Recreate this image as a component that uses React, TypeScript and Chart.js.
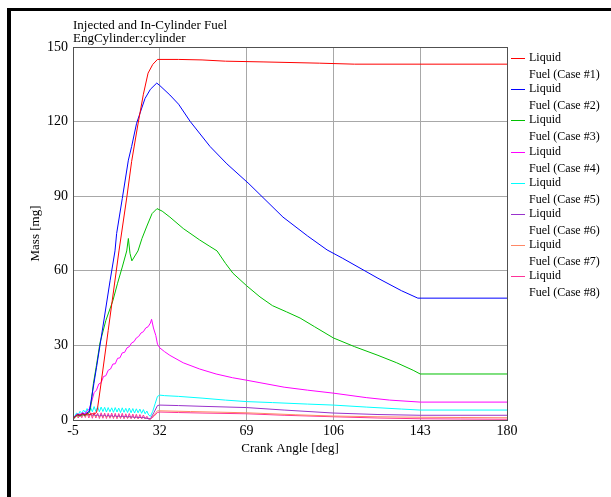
import { useEffect, useRef } from 'react';
import { Chart, registerables } from 'chart.js';

Chart.register(...registerables);

const FONT = "'Liberation Serif', 'Times New Roman', serif";

const TITLE_LINES = ['Injected and In-Cylinder Fuel', 'EngCylinder:cylinder'];
const X_TITLE = 'Crank Angle [deg]';
const Y_TITLE = 'Mass [mg]';
const X_TICKS = [-5, 32, 69, 106, 143, 180];
const Y_MIN = 0;
const Y_MAX = 150;
const Y_STEP = 30;

const LABELS = [
  'Liquid Fuel (Case #1)',
  'Liquid Fuel (Case #2)',
  'Liquid Fuel (Case #3)',
  'Liquid Fuel (Case #4)',
  'Liquid Fuel (Case #5)',
  'Liquid Fuel (Case #6)',
  'Liquid Fuel (Case #7)',
  'Liquid Fuel (Case #8)',
];
const COLORS = ['#ff0000', '#0000ff', '#00c000', '#ff00ff', '#00ffff', '#9933cc', '#ff8866', '#ff3399'];

// Case 1 (red)
const case1X = [-5, -4, -3, -2, -1, 0, 1, 2, 3, 4, 5, 5.5, 7, 10, 14.6, 18, 20, 22.7, 25, 27, 29, 31, 40, 50, 60, 76, 100, 115, 180];
const case1Y = [0.3, 1.5, 2.2, 1.8, 2.5, 2.0, 2.6, 2.2, 2.5, 2.4, 3.0, 5, 15, 36, 68, 90, 104, 119, 131, 139.5, 143, 145, 145, 144.8, 144.3, 144.0, 143.5, 143.1, 143.1];

// Case 2 (blue)
const case2X = [-5, -4, -3, -2, -1, 0, 1, 2, 3, 5, 8, 10.8, 12.9, 13.6, 16, 18.6, 20, 22.1, 25.7, 28, 30.7, 32, 36.3, 40, 45, 53.4, 60.6, 70, 84.5, 95, 103.3, 110, 125, 135, 142, 180];
const case2Y = [0.3, 1.6, 2.3, 1.8, 2.6, 2.2, 2.9, 3.5, 9.4, 21, 39, 56, 68, 75, 89, 104.5, 110, 119.3, 129.3, 133, 135.5, 134.5, 130.7, 127, 120, 110, 103, 95, 81.6, 74, 68.4, 65, 57, 52, 49, 49];

// Case 3 (green)
const case3X = [-5, -4, -3, -2, -1, 0, 1, 2, 2.5, 3.7, 5, 6.5, 9, 12, 14, 16, 17.9, 18.6, 19.3, 20.1, 22.7, 24.4, 26.5, 28.7, 30.8, 33, 36.3, 42, 49, 53, 56.4, 60, 63.2, 69, 74.7, 80, 86, 91.8, 98, 106, 115, 125, 133, 140, 143, 180];
const case3Y = [0.3, 1.2, 2.0, 1.5, 2.3, 1.8, 2.5, 3.0, 5, 14.7, 22, 31, 40, 48, 55, 61.5, 68, 73, 67, 64, 68, 73, 78, 83, 85, 84, 81.6, 77, 72.4, 70, 68, 63, 59, 54, 49.5, 46, 43.5, 41, 37.5, 33, 29.5, 26, 23, 20, 18.5, 18.5];

// Case 4 (magenta)
const case4X = [-5, -4, -3, -2, -1, 0, 1, 2, 3, 4, 5, 6, 7, 8, 9, 10, 11, 12, 13, 14, 15, 16, 17, 18, 19, 20, 21, 22, 23, 24, 25, 26, 27, 28, 28.5, 29.3, 30.3, 31, 32, 34, 36.3, 42, 49, 56, 63, 69, 74.7, 85, 95, 106, 120, 130, 143, 180];
const case4Y = [0.3, 1.5, 2.5, 2.0, 3.0, 2.6, 3.6, 4.5, 7.5, 11, 12, 14.5, 15, 17.5, 17.8, 20, 20.5, 22.5, 22.6, 24.8, 25, 27, 27.2, 29, 29.5, 31, 31.5, 33, 33.6, 35, 35.5, 37, 37.5, 39, 40.5, 37, 34, 30.5, 29, 27.5, 26, 23, 20.5, 18.5, 17, 16, 15, 13.2, 12, 10.8, 9, 8, 7.2, 7.2];

// Shared sample angles for the noisy early part of cases 5-8
const zigX = [-5, -4.25, -3.5, -2.75, -2, -1.25, -0.5, 0.25, 1, 1.75, 2.5, 3.25, 4, 4.75, 5.5, 6.25, 7, 7.75, 8.5, 9.25, 10, 10.75, 11.5, 12.25, 13, 13.75, 14.5, 15.25, 16, 16.75, 17.5, 18.25, 19, 19.75, 20.5, 21.25, 22, 22.75, 23.5, 24.25, 25, 25.75, 26.5, 27.25];

// Case 5 (cyan)
const case5EarlyY = [0.5, 1.5, 2.8, 2.2, 3.5, 2.6, 4.0, 3.0, 4.6, 3.2, 5.0, 3.3, 5.4, 3.4, 5.3, 3.3, 5.2, 3.4, 5.1, 3.2, 5.0, 3.3, 4.9, 3.1, 5.0, 3.2, 4.8, 3.0, 4.9, 3.1, 4.7, 3.0, 4.8, 2.9, 4.6, 2.8, 4.5, 2.9, 4.4, 2.7, 4.2, 2.5, 3.6, 2.0];
const case5LateX = [28, 29, 30, 31, 32, 34, 40, 50, 60, 69, 80, 95, 106, 120, 135, 143, 180];
const case5LateY = [1.5, 3.5, 6.5, 9.5, 10, 9.8, 9.5, 8.8, 8.0, 7.4, 7.0, 6.4, 6.0, 5.2, 4.4, 4.0, 4.0];

// Case 6 (purple)
const case6EarlyY = [0.5, 1.5, 2.0, 1.6, 2.2, 1.7, 2.3, 1.8, 2.4, 1.9, 2.3, 1.8, 2.2, 1.7, 2.1, 1.6, 2.0, 1.5, 2.0, 1.5, 1.9, 1.4, 1.8, 1.4, 1.8, 1.3, 1.7, 1.3, 1.6, 1.2, 1.5, 1.2, 1.4, 1.1, 1.3, 1.0, 1.2, 1.0, 1.1, 0.9, 1.0, 0.8, 0.7, 0.5];
const case6LateX = [28, 29.5, 31, 32, 40, 50, 69, 85, 106, 125, 143, 180];
const case6LateY = [0.5, 3.0, 5.8, 6.0, 5.8, 5.5, 5.0, 4.0, 2.8, 2.2, 1.9, 1.9];

// Case 7 (salmon)
const case7EarlyY = [0.4, 1.2, 1.8, 1.3, 2.0, 1.4, 2.0, 1.5, 2.1, 1.4, 2.0, 1.4, 1.9, 1.3, 1.9, 1.3, 1.8, 1.2, 1.8, 1.2, 1.7, 1.2, 1.6, 1.1, 1.6, 1.1, 1.5, 1.0, 1.5, 1.0, 1.4, 1.0, 1.3, 0.9, 1.3, 0.9, 1.2, 0.8, 1.1, 0.8, 1.0, 0.7, 0.7, 0.5];
const case7LateX = [28, 29.5, 31, 32, 45, 69, 90, 106, 125, 143, 160, 180];
const case7LateY = [0.4, 2.0, 3.7, 3.7, 3.4, 2.9, 2.1, 1.6, 1.3, 1.1, 1.0, 0.9];

// Case 8 (pink)
const case8EarlyY = [0.3, 1.0, 2.0, 0.8, 2.6, 0.9, 2.8, 1.0, 3.0, 0.8, 2.9, 0.7, 3.0, 0.8, 2.8, 0.6, 2.9, 0.7, 2.8, 0.6, 2.7, 0.7, 2.8, 0.6, 2.7, 0.5, 2.6, 0.6, 2.7, 0.5, 2.5, 0.6, 2.6, 0.5, 2.4, 0.5, 2.3, 0.4, 2.2, 0.5, 2.0, 0.4, 1.5, 0.4];
const case8LateX = [28, 29.5, 31, 32, 40, 50, 69, 85, 106, 125, 143, 160, 180];
const case8LateY = [0.3, 1.5, 3.0, 3.2, 3.0, 2.8, 2.5, 1.9, 1.3, 0.8, 0.5, 0.4, 0.3];

const pts = (xs: number[], ys: number[]) => xs.map((x, i) => ({ x, y: ys[i] }));

const SERIES = [
  pts(case1X, case1Y),
  pts(case2X, case2Y),
  pts(case3X, case3Y),
  pts(case4X, case4Y),
  pts(zigX.concat(case5LateX), case5EarlyY.concat(case5LateY)),
  pts(zigX.concat(case6LateX), case6EarlyY.concat(case6LateY)),
  pts(zigX.concat(case7LateX), case7EarlyY.concat(case7LateY)),
  pts(zigX.concat(case8LateX), case8EarlyY.concat(case8LateY)),
];

const framePlugin = {
  id: 'frameAndText',
  afterDatasetsDraw(chart: any) {
    const { ctx, chartArea } = chart;
    ctx.save();
    ctx.strokeStyle = '#505050';
    ctx.lineWidth = 1;
    ctx.strokeRect(
      Math.round(chartArea.left) + 0.5,
      Math.round(chartArea.top) + 0.5,
      Math.round(chartArea.right - chartArea.left),
      Math.round(chartArea.bottom - chartArea.top)
    );
    ctx.restore();
  },
  afterDraw(chart: any) {
    const { ctx, chartArea } = chart;
    ctx.save();
    ctx.fillStyle = '#000';
    ctx.font = `13px ${FONT}`;
    ctx.textAlign = 'left';
    ctx.textBaseline = 'alphabetic';
    ctx.fillText(TITLE_LINES[0], chartArea.left, chartArea.top - 18);
    ctx.fillText(TITLE_LINES[1], chartArea.left, chartArea.top - 5);

    ctx.font = `12px ${FONT}`;
    ctx.textBaseline = 'middle';
    chart.data.datasets.forEach((ds: any, i: number) => {
      const y = Math.round(chartArea.top + 11 + i * 31.2);
      ctx.strokeStyle = ds.borderColor;
      ctx.lineWidth = 1;
      ctx.beginPath();
      ctx.moveTo(chartArea.right + 4, y + 0.5);
      ctx.lineTo(chartArea.right + 18, y + 0.5);
      ctx.stroke();
      const label: string = ds.label;
      const sp = label.indexOf(' ');
      ctx.fillStyle = '#000';
      ctx.fillText(label.slice(0, sp), chartArea.right + 22, y);
      ctx.fillText(label.slice(sp + 1), chartArea.right + 22, y + 16.5);
    });
    ctx.restore();
  },
};

export default function App() {
  const ref = useRef<HTMLCanvasElement | null>(null);

  useEffect(() => {
    if (!ref.current) return;
    const chart = new Chart(ref.current, {
      type: 'line',
      data: {
        datasets: SERIES.map((data, i) => ({
          label: LABELS[i],
          data,
          borderColor: COLORS[i],
          backgroundColor: COLORS[i],
          borderWidth: 1,
          pointRadius: 0,
          tension: 0,
          fill: false,
        })),
      },
      options: {
        responsive: false,
        animation: false,
        devicePixelRatio: 1,
        parsing: false as any,
        normalized: true,
        layout: { padding: { left: 0, top: 47, right: 104, bottom: 37 } },
        plugins: {
          legend: { display: false },
          title: { display: false },
          tooltip: { enabled: false },
        },
        scales: {
          x: {
            type: 'linear',
            min: X_TICKS[0],
            max: X_TICKS[X_TICKS.length - 1],
            afterBuildTicks: (scale: any) => {
              scale.ticks = X_TICKS.map((v) => ({ value: v }));
            },
            afterFit: (scale: any) => {
              scale.height = 40;
            },
            grid: { color: '#a8a8a8', lineWidth: 1, drawTicks: false },
            border: { display: true, color: '#505050' },
            ticks: {
              color: '#000',
              padding: 3,
              maxRotation: 0,
              autoSkip: false,
              font: { family: FONT, size: 14 },
            },
            title: {
              display: true,
              text: X_TITLE,
              color: '#000',
              font: { family: FONT, size: 13 },
              padding: { top: 0, bottom: 4 },
            },
          },
          y: {
            type: 'linear',
            min: Y_MIN,
            max: Y_MAX,
            afterFit: (scale: any) => {
              scale.width = 73;
            },
            grid: { color: '#a8a8a8', lineWidth: 1, drawTicks: false },
            border: { display: true, color: '#505050' },
            ticks: {
              stepSize: Y_STEP,
              color: '#000',
              padding: 5,
              font: { family: FONT, size: 14 },
            },
            title: {
              display: true,
              text: Y_TITLE,
              color: '#000',
              font: { family: FONT, size: 13 },
              padding: { top: 28, bottom: 0 },
            },
          },
        },
      },
      plugins: [framePlugin],
    });
    return () => chart.destroy();
  }, []);

  return (
    <div style={{ position: 'fixed', left: 0, top: 0, width: 611, height: 497, background: '#fff' }}>
      <canvas ref={ref} width={611} height={497} style={{ display: 'block', position: 'absolute', left: 0, top: 0 }} />
      <div
        style={{
          position: 'absolute',
          left: 7,
          top: 8,
          width: 604,
          height: 489,
          borderLeft: '4px solid #000',
          borderTop: '3px solid #000',
          boxSizing: 'border-box',
          pointerEvents: 'none',
        }}
      />
    </div>
  );
}
